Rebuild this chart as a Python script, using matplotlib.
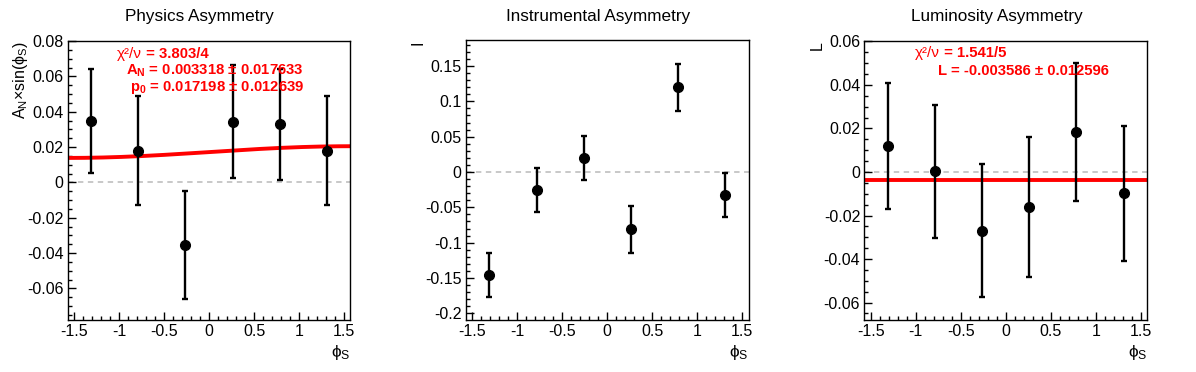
import numpy as np
import matplotlib.pyplot as plt
from matplotlib.ticker import MultipleLocator, FuncFormatter

plt.rcParams['font.family'] = ['Liberation Sans', 'DejaVu Sans']
plt.rcParams['mathtext.fontset'] = 'custom'
plt.rcParams['mathtext.rm'] = 'Liberation Sans'
plt.rcParams['mathtext.bf'] = 'Liberation Sans:bold'
plt.rcParams['mathtext.it'] = 'Liberation Sans:italic'
plt.rcParams['axes.unicode_minus'] = False

# bin centres in phi_S
phi_s = [-1.309, -0.785, -0.262, 0.262, 0.785, 1.309]

# physics asymmetry
phys_val = [0.0350, 0.0180, -0.0355, 0.0345, 0.0330, 0.0180]
phys_err = [0.0295, 0.0310, 0.0305, 0.0320, 0.0315, 0.0310]
phys_p0 = 0.017198
phys_an = 0.003318

# instrumental asymmetry
instr_val = [-0.1455, -0.0255, 0.0195, -0.0810, 0.1200, -0.0325]
instr_err = [0.0310, 0.0310, 0.0310, 0.0330, 0.0335, 0.0310]

# luminosity asymmetry
lumi_val = [0.0118, 0.0003, -0.0270, -0.0160, 0.0183, -0.0097]
lumi_err = [0.0290, 0.0305, 0.0305, 0.0323, 0.0318, 0.0310]
lumi_L = -0.003586

titles = ["Physics Asymmetry", "Instrumental Asymmetry", "Luminosity Asymmetry"]
ylabels = [r"A$_\mathrm{N}$×sin($\mathrm{\phi_S}$)", "I", "L"]
x_ticks = [-1.5, -1, -0.5, 0, 0.5, 1, 1.5]

phys_chi = "= 3.803/4"
phys_text = [r"A$_\mathbf{N}$ = 0.003318 ± 0.017633",
             r"p$_\mathbf{0}$ = 0.017198 ± 0.012639"]
lumi_chi = "= 1.541/5"
lumi_text = ["L = -0.003586 ± 0.012596"]


def fmt(v, pos):
    if abs(v) < 1e-9:
        return "0"
    return "%g" % round(v, 6)


W, H = 1196, 372
fig = plt.figure(figsize=(W / 100, H / 100), dpi=100)

lefts = [67.6, 465.9, 864.3]
tops = [41, 40.3, 41]
bottom = 320
width = 282.8
ylims = [(-0.0779, 0.0801), (-0.2095, 0.1864), (-0.068, 0.0602)]
y_major = [0.02, 0.05, 0.02]
y_minor = [0.005, 0.01, 0.005]
vals = [phys_val, instr_val, lumi_val]
errs = [phys_err, instr_err, lumi_err]

axes = []
for i in range(3):
    ax = fig.add_axes([lefts[i] / W, (H - bottom) / H, width / W, (bottom - tops[i]) / H])
    axes.append(ax)
    ax.set_xlim(-np.pi / 2, np.pi / 2)
    ax.set_ylim(*ylims[i])
    ax.axhline(0, color='#c4c4c4', lw=1.3, ls=(0, (3, 2.5)), zorder=1)
    ax.errorbar(phi_s, vals[i], yerr=errs[i], fmt='o', color='black', ms=7,
                elinewidth=1.7, capsize=2.5, capthick=1.7, zorder=3)
    ax.set_xticks(x_ticks)
    ax.xaxis.set_major_formatter(FuncFormatter(fmt))
    ax.xaxis.set_minor_locator(MultipleLocator(0.1))
    ax.yaxis.set_major_locator(MultipleLocator(y_major[i]))
    ax.yaxis.set_minor_locator(MultipleLocator(y_minor[i]))
    ax.yaxis.set_major_formatter(FuncFormatter(fmt))
    ax.tick_params(which='both', direction='in', top=False, right=False,
                   labelsize=11.5, width=1, colors='black')
    ax.tick_params(which='major', length=6, pad=3)
    ax.tick_params(which='minor', length=3)
    for s in ax.spines.values():
        s.set_linewidth(1)
    ax.text(-0.168, 1.0, ylabels[i], rotation=90, ha='center', va='top',
            fontsize=11.5, transform=ax.transAxes)
    ax.text(1.0, -0.115, r"$\mathrm{\phi_S}$", ha='right', va='center',
            fontsize=12.5, transform=ax.transAxes)
    fig.text((i + 0.5) / 3, 1 - 16.5 / H, titles[i], ha='center', va='center',
             fontsize=12.3)

# fits
xs = np.linspace(-np.pi / 2, np.pi / 2, 200)
axes[0].plot(xs, phys_p0 + phys_an * np.sin(xs), color='red', lw=2.8, zorder=2)
axes[2].axhline(lumi_L, color='red', lw=2.8, zorder=2)


def px(ax_i, x, y):
    # figure pixel -> axes fraction for panel ax_i
    return ((x - lefts[ax_i]) / width, (bottom - y) / (bottom - tops[ax_i]))


def chi_line(ax_i, x, y, value):
    ax = axes[ax_i]
    xa, ya = px(ax_i, x, y)
    t = ax.text(xa, ya, "χ²/ν", color='red', fontsize=11, ha='left',
                va='baseline', transform=ax.transAxes)
    ax.annotate(" " + value, xy=(1, 0), xycoords=t, color='red', fontsize=10.7,
                fontweight='bold', ha='left', va='bottom')


# fit statistics (no frame)
chi_line(0, 117, 58, phys_chi)
for j, t in enumerate(phys_text):
    xr, yr = px(0, 304, 71 + 17 * j)
    axes[0].text(xr, yr, t, color='red', fontsize=10.7, fontweight='bold',
                 ha='right', va='center', transform=axes[0].transAxes)

chi_line(2, 915, 57, lumi_chi)
for j, t in enumerate(lumi_text):
    xr, yr = px(2, 1109, 71 + 17 * j)
    axes[2].text(xr, yr, t, color='red', fontsize=10.7, fontweight='bold',
                 ha='right', va='center', transform=axes[2].transAxes)

fig.savefig("out.png", dpi=100)
